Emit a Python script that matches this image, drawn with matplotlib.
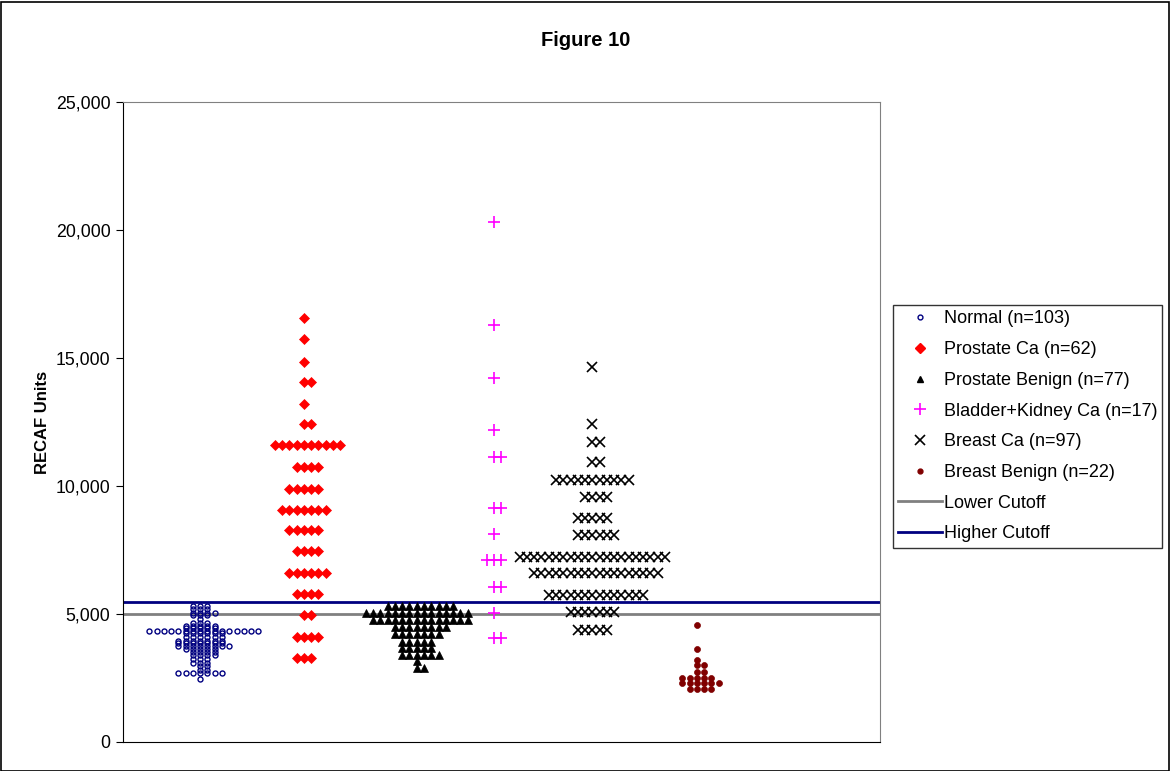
import numpy as np
import matplotlib
matplotlib.use("Agg")
import matplotlib.pyplot as plt
from matplotlib.lines import Line2D
from matplotlib.patches import Rectangle
from matplotlib.ticker import FuncFormatter

plt.rcParams['font.family'] = ['Liberation Sans', 'DejaVu Sans']

# dot-plot rows: value level and how many samples sit on it
normal_levels = [5300, 5200, 5050, 4950, 4800, 4650, 4550, 4450, 4350, 4250, 4100,
                 3950, 3850, 3750, 3650, 3500, 3400, 3250, 3100, 2950, 2800, 2700, 2450]
normal_counts = [3, 3, 4, 3, 1, 3, 5, 5, 16, 6, 6, 7, 7, 8, 5, 4, 4, 3, 3, 2, 2, 7, 1]

pca_levels = [16570, 15730, 14860, 14080, 13200, 12410, 11600, 10760, 9880,
              9060, 8280, 7470, 6620, 5780, 4960, 4120, 3290]
pca_counts = [1, 1, 1, 2, 1, 2, 10, 4, 5, 7, 5, 4, 6, 4, 2, 4, 3]

pben_levels = [5330, 5050, 4770, 4480, 4220, 3920, 3660, 3400, 3160, 2900]
pben_counts = [10, 15, 14, 8, 7, 5, 5, 6, 1, 2]

bk_levels = [20330, 16290, 14210, 12190, 11150, 9130, 8110, 7110, 6070, 5030, 4050]
bk_counts = [1, 1, 1, 1, 2, 2, 1, 3, 2, 1, 2]

bca_levels = [14660, 12420, 11710, 10950, 10230, 9580, 8740, 8090, 7240, 6590,
              5740, 5090, 4380]
bca_counts = [1, 1, 2, 2, 11, 4, 5, 6, 21, 18, 14, 7, 5]

bben_levels = [4570, 3630, 3200, 3010, 2720, 2510, 2290, 2070]
bben_counts = [1, 1, 1, 2, 2, 5, 6, 4]

lower_cutoff = 5000
higher_cutoff = 5470

labels = ["Normal (n=103)", "Prostate Ca (n=62)", "Prostate Benign (n=77)",
          "Bladder+Kidney Ca (n=17)", "Breast Ca (n=97)", "Breast Benign (n=22)"]

groups = [
    (normal_levels, normal_counts, 1.02, dict(marker='o', ms=3.6, mfc='none', mec='#000080', mew=1.0)),
    (pca_levels, pca_counts, 2.39, dict(marker='D', ms=5.2, mfc='#ff0000', mec='#ff0000', mew=0.5)),
    (pben_levels, pben_counts, 3.88, dict(marker='^', ms=5.5, mfc='black', mec='black', mew=0.5)),
    (bk_levels, bk_counts, 4.90, dict(marker='+', ms=8, mfc='#ff00ff', mec='#ff00ff', mew=1.2)),
    (bca_levels, bca_counts, 6.20, dict(marker='x', ms=7, mfc='black', mec='black', mew=1.2)),
    (bben_levels, bben_counts, 7.58, dict(marker='o', ms=4.3, mfc='#800000', mec='#800000', mew=0.5)),
]
step = 0.096

fig = plt.figure(figsize=(11.7, 7.71), dpi=100)
ax = fig.add_axes([123/1170, 29/771, 757/1170, 640/771])

for levels, counts, center, style in groups:
    xs, ys = [], []
    for lv, n in zip(levels, counts):
        offs = (np.arange(n) - (n - 1) // 2) * step
        xs.extend(center + offs)
        ys.extend([lv] * n)
    ax.plot(xs, ys, ls='none', zorder=3, **style)

ax.axhline(lower_cutoff, color='#808080', lw=2, zorder=2)
ax.axhline(higher_cutoff, color='#000080', lw=2, zorder=2)

ax.set_xlim(0, 10)
ax.set_ylim(0, 25000)
ax.set_xticks([])
ax.set_yticks(range(0, 25001, 5000))
ax.yaxis.set_major_formatter(FuncFormatter(lambda v, p: f"{int(v):,}"))
ax.tick_params(axis='y', direction='out', length=5, labelsize=12.8, pad=4)
for s in ['top', 'right']:
    ax.spines[s].set_color('#808080')
ax.spines['left'].set_color('black')
ax.spines['bottom'].set_color('black')
ax.set_ylabel("RECAF Units", fontsize=12, fontweight='bold', labelpad=4)

fig.text(586/1170, 1 - 40/771, "Figure 10", ha='center', va='center',
         fontsize=14.5, fontweight='bold')

handles = [Line2D([], [], ls='none', **g[3]) for g in groups]
handles[0] = Line2D([], [], ls='none', marker='o', ms=3.5, mfc='none', mec='#000080', mew=1.0)
handles[1] = Line2D([], [], ls='none', marker='D', ms=5, mfc='#ff0000', mec='#ff0000')
handles[2] = Line2D([], [], ls='none', marker='^', ms=5, mfc='black', mec='black')
handles[5] = Line2D([], [], ls='none', marker='o', ms=3.5, mfc='#800000', mec='#800000')
handles += [Line2D([], [], color='#808080', lw=2), Line2D([], [], color='#000080', lw=2)]
leg = fig.legend(handles, labels + ["Lower Cutoff", "Higher Cutoff"],
                 loc='upper left', bbox_to_anchor=(893/1170, 1 - 305/771),
                 fontsize=13.0, frameon=True, fancybox=False, edgecolor='black',
                 handlelength=2.4, handletextpad=0.1, labelspacing=0.76,
                 borderpad=0.3, borderaxespad=0)
leg.get_frame().set_linewidth(1.0)

fig.patches.append(Rectangle((0.001, 0.0), 0.998, 0.998, transform=fig.transFigure,
                             fill=False, edgecolor='black', lw=1.2))

fig.savefig("out.png", dpi=100)
